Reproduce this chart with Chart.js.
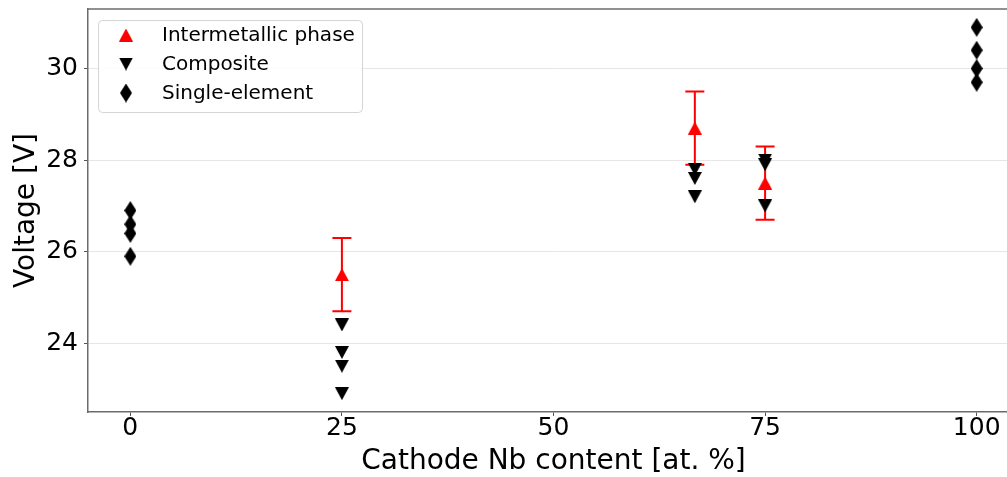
<!DOCTYPE html>
<html>
<head>
<meta charset="utf-8">
<title>Cathode Nb content vs. voltage</title>
<script src="https://cdn.jsdelivr.net/npm/chart.js@4/dist/chart.umd.min.js"></script>
<style>
  html, body { margin: 0; padding: 0; background: #fff; overflow: hidden; }
  #wrap { width: 1024px; height: 477px; }
</style>
</head>
<body>
<div id="wrap"><canvas id="c" width="1024" height="477"></canvas></div>
<script>
// Tick positions
const xTicks = [0, 25, 50, 75, 100];
const yTicks = [24, 26, 28, 30];

// Intermetallic phase cathodes: mean voltage with error
const interX = [25, 66.7, 75];
const interV = [25.5, 28.7, 27.5];
const interErr = [0.8, 0.8, 0.8];

// Composite cathodes
const compX = [25, 25, 25, 25, 66.7, 66.7, 66.7, 75, 75, 75];
const compV = [24.4, 23.8, 23.5, 22.9, 27.8, 27.6, 27.2, 28.0, 27.9, 27.0];

// Single-element cathodes
const singleX = [0, 0, 0, 0, 100, 100, 100, 100];
const singleV = [26.9, 26.6, 26.4, 25.9, 30.9, 30.4, 30.0, 29.7];

const labels = ['Intermetallic phase', 'Composite', 'Single-element'];

// Marker sprites
function marker(shape, w, h, color) {
  const c = document.createElement('canvas');
  c.width = w; c.height = h;
  const g = c.getContext('2d');
  g.fillStyle = color;
  g.beginPath();
  if (shape === 'up') {
    g.moveTo(w / 2, 0); g.lineTo(w, h); g.lineTo(0, h);
  } else if (shape === 'down') {
    g.moveTo(0, 0); g.lineTo(w, 0); g.lineTo(w / 2, h);
  } else {
    g.moveTo(w / 2, 0); g.lineTo(w, h / 2); g.lineTo(w / 2, h); g.lineTo(0, h / 2);
  }
  g.closePath();
  g.fill();
  return c;
}
const mUp = marker('up', 14, 13, '#ff0000');
const mDown = marker('down', 14, 13, '#000000');
const mDiamond = marker('diamond', 12, 19, '#000000');

const pts = (xs, ys) => xs.map((x, i) => ({ x: x, y: ys[i] }));

const FONT = 'DejaVu Sans';
const SPINE = '#6b6b6b';

// Red error bars with caps for the intermetallic series
const errorBars = {
  id: 'errorBars',
  beforeDatasetsDraw(chart) {
    const { ctx, scales: { x, y } } = chart;
    ctx.save();
    ctx.strokeStyle = '#ff0000';
    ctx.lineWidth = 2;
    interX.forEach((xv, i) => {
      const px = x.getPixelForValue(xv);
      const top = y.getPixelForValue(interV[i] + interErr[i]);
      const bot = y.getPixelForValue(interV[i] - interErr[i]);
      ctx.beginPath();
      ctx.moveTo(px, top); ctx.lineTo(px, bot);
      ctx.moveTo(px - 9.5, top); ctx.lineTo(px + 9.5, top);
      ctx.moveTo(px - 9.5, bot); ctx.lineTo(px + 9.5, bot);
      ctx.stroke();
    });
    ctx.restore();
  }
};

// Top spine of the frame
const frame = {
  id: 'frame',
  beforeDatasetsDraw(chart) {
    const { ctx, chartArea: a } = chart;
    ctx.save();
    ctx.strokeStyle = SPINE;
    ctx.lineWidth = 1.5;
    ctx.beginPath();
    ctx.moveTo(a.left - 0.75, a.top);
    ctx.lineTo(a.right, a.top);
    ctx.stroke();
    ctx.restore();
  }
};

// Legend box in the upper left corner of the plot
const insetLegend = {
  id: 'insetLegend',
  afterDatasetsDraw(chart) {
    const { ctx, chartArea: a } = chart;
    const bx = a.left + 10, by = a.top + 11, bw = 264, bh = 92, r = 4;
    ctx.save();
    ctx.fillStyle = 'rgba(255,255,255,0.85)';
    ctx.strokeStyle = '#d4d4d4';
    ctx.lineWidth = 1;
    ctx.beginPath();
    ctx.roundRect(bx + 0.5, by + 0.5, bw, bh, r);
    ctx.fill();
    ctx.stroke();
    const icons = [mUp, mDown, mDiamond];
    const rowY = [by + 15, by + 44, by + 73];
    ctx.font = '20px "' + FONT + '"';
    ctx.fillStyle = '#000';
    ctx.textBaseline = 'middle';
    labels.forEach((t, i) => {
      const ic = icons[i];
      ctx.drawImage(ic, bx + 28 - ic.width / 2, rowY[i] - ic.height / 2);
      ctx.fillText(t, bx + 64, rowY[i] + 1);
    });
    ctx.restore();
  }
};

new Chart(document.getElementById('c'), {
  type: 'scatter',
  data: {
    datasets: [
      { label: labels[0], data: pts(interX, interV), pointStyle: mUp, order: 1 },
      { label: labels[1], data: pts(compX, compV), pointStyle: mDown, order: 0 },
      { label: labels[2], data: pts(singleX, singleV), pointStyle: mDiamond, order: 2 }
    ]
  },
  options: {
    responsive: false,
    animation: false,
    events: [],
    layout: { padding: { top: 9, left: 0, right: 0, bottom: 0 } },
    plugins: { legend: { display: false }, tooltip: { enabled: false } },
    scales: {
      x: {
        type: 'linear',
        min: -5,
        max: 105,
        afterBuildTicks: s => { s.ticks = xTicks.map(v => ({ value: v })); },
        afterFit: s => { s.height = 65; s.paddingLeft = 0; s.paddingRight = 0; },
        ticks: { font: { family: FONT, size: 25 }, color: '#000', padding: -3, maxRotation: 0 },
        grid: { drawOnChartArea: false, drawTicks: true, tickLength: 4, tickColor: '#555', tickWidth: 1 },
        border: { display: true, color: SPINE, width: 1.5 },
        title: {
          display: true, text: 'Cathode Nb content [at. %]', color: '#000',
          font: { family: FONT, size: 28 }, padding: { top: 0, bottom: -2 }
        }
      },
      y: {
        type: 'linear',
        min: 22.5,
        max: 31.3,
        afterBuildTicks: s => { s.ticks = yTicks.map(v => ({ value: v })); },
        afterFit: s => { s.width = 88; s.paddingTop = 0; s.paddingBottom = 0; },
        ticks: { font: { family: FONT, size: 25 }, color: '#000', padding: 6 },
        grid: { color: '#e6e6e6', lineWidth: 1, drawTicks: true, tickLength: 4, tickColor: '#555', tickWidth: 1 },
        border: { display: true, color: SPINE, width: 1.5 },
        title: {
          display: true, text: 'Voltage [V]', color: '#000',
          font: { family: FONT, size: 28 }, padding: { top: 10, bottom: 0 }
        }
      }
    }
  },
  plugins: [errorBars, frame, insetLegend]
});
</script>
</body>
</html>
